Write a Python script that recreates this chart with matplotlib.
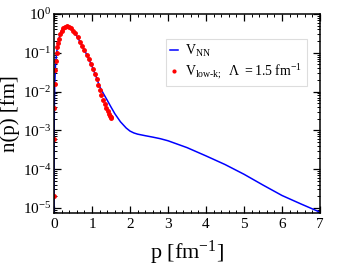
import numpy as np
import matplotlib
matplotlib.use("Agg")
import matplotlib.pyplot as plt
from matplotlib.ticker import MultipleLocator, LogLocator, NullFormatter

plt.rcParams['font.family'] = ['Liberation Serif', 'DejaVu Serif']
plt.rcParams['mathtext.fontset'] = 'custom'
plt.rcParams['mathtext.rm'] = 'Liberation Serif'
plt.rcParams['mathtext.it'] = 'Liberation Serif:italic'

# V_NN momentum distribution (blue line)
p_nn = [0.0002, 0.001, 0.003, 0.006, 0.01, 0.02, 0.04, 0.07, 0.10, 0.15,
        0.20, 0.25, 0.30, 0.35, 0.40, 0.45, 0.50, 0.60, 0.70, 0.80,
        0.90, 1.00, 1.10, 1.20, 1.30, 1.40, 1.50, 1.60, 1.75, 1.90,
        2.00, 2.10, 2.20, 2.40, 2.60, 2.80, 3.00, 3.50, 4.00, 4.50,
        5.00, 5.50, 6.00, 6.50, 7.00]
n_nn = [1.4e-6, 3.5e-5, 3.2e-4, 1.3e-3, 3.5e-3, 1.5e-2, 4.8e-2, 0.10, 0.165, 0.27,
        0.37, 0.44, 0.47, 0.48, 0.465, 0.43, 0.375, 0.27, 0.18, 0.118,
        0.075, 0.045, 0.0255, 0.0135, 0.0089, 0.0060, 0.0040, 0.0027, 0.00166, 0.00115,
        0.00096, 0.00086, 0.00080, 0.00073, 0.00067, 0.00061, 0.00054, 0.00036, 0.00022, 0.000132,
        7.4e-5, 3.9e-5, 2.1e-5, 1.27e-5, 7.8e-6]

# V_low-k, Lambda = 1.5 fm^-1 (red dots)
p_lk = [0.0008, 0.004, 0.010, 0.020, 0.032, 0.050, 0.070, 0.090, 0.11, 0.135,
        0.165, 0.20, 0.24, 0.29, 0.34, 0.39, 0.44, 0.50, 0.56, 0.62,
        0.68, 0.74, 0.80, 0.86, 0.92, 0.97, 1.02, 1.07, 1.12, 1.17,
        1.21, 1.25, 1.30, 1.34, 1.38, 1.42, 1.45, 1.475, 1.49, 1.498]
n_lk = [2.1e-5, 5.9e-4, 3.7e-3, 1.6e-2, 3.5e-2, 6.3e-2, 0.10, 0.14, 0.18, 0.23,
        0.30, 0.37, 0.44, 0.47, 0.48, 0.47, 0.44, 0.37, 0.32, 0.25,
        0.19, 0.15, 0.117, 0.089, 0.068, 0.051, 0.039, 0.029, 0.021, 0.015,
        0.011, 0.0083, 0.0060, 0.0048, 0.0038, 0.0031, 0.0027, 0.0024, 0.0022, 0.0021]

fig = plt.figure(figsize=(3.46, 2.68), dpi=100)
ax = fig.add_axes([0.156, 0.205, 0.769, 0.743])

ax.plot(p_nn, n_nn, color='blue', lw=1.1, label=r'$\mathrm{V}_{\mathrm{NN}}$')
ax.plot(p_lk, n_lk, ls='none', marker='o', ms=2.5, color='red', mec='red',
        label=r'$\mathrm{V}_{\mathrm{low\text{-}k};}\ \ \Lambda\ \mathrm{=1.5\ fm}^{\mathrm{-1}}$')

ax.set_yscale('log')
ax.set_xlim(0, 7)
ax.set_ylim(10**-5.13, 1)

ax.xaxis.set_major_locator(MultipleLocator(1))
ax.xaxis.set_minor_locator(MultipleLocator(0.2))
ax.yaxis.set_major_locator(LogLocator(base=10, numticks=10))
ax.yaxis.set_minor_locator(LogLocator(base=10, subs=np.arange(2, 10), numticks=20))
ax.yaxis.set_minor_formatter(NullFormatter())

ax.tick_params(which='both', direction='in', top=True, right=True, labelsize=11)
ax.tick_params(axis='y', which='major', pad=2)
ax.tick_params(which='major', length=5, width=0.9)
ax.tick_params(which='minor', length=2.5, width=0.7)
for s in ax.spines.values():
    s.set_linewidth(1.1)

ax.set_xlabel(r'p [fm$^{\mathrm{-1}}$]', fontsize=16, labelpad=6)
ax.set_ylabel('n(p) [fm]', fontsize=15)
ax.yaxis.set_label_coords(-0.128, 0.5)

leg = ax.legend(loc='upper right', bbox_to_anchor=(0.95, 0.875), fontsize=10,
                handlelength=0.6, handletextpad=0.5, borderpad=0.3,
                labelspacing=0.25, borderaxespad=0, fancybox=False, framealpha=1,
                edgecolor='#dddddd', markerscale=0.8)
leg.get_frame().set_linewidth(0.8)

fig.savefig('out.png', dpi=100)
